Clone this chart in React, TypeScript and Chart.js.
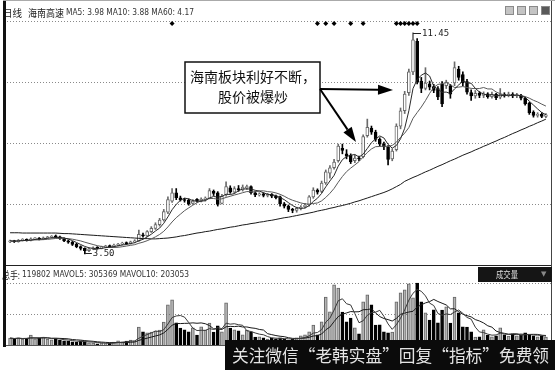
import { useEffect, useRef } from "react";
import { Chart, registerables } from "chart.js";

Chart.register(...registerables);

// Daily bars: open / high / low / close
const opens = [
  3.93, 3.96, 3.94, 3.99, 4.01, 3.99, 4.04, 4.06, 4.03, 4.08, 4.10, 4.13,
  4.11, 4.05, 3.97, 3.92, 3.85, 3.76, 3.70, 3.62, 3.68, 3.72, 3.70, 3.75,
  3.78, 3.76, 3.82, 3.85, 3.89, 3.87, 3.93, 3.97, 4.18, 4.15, 4.30, 4.42,
  4.55, 4.72, 5.00, 5.40, 5.70, 5.52, 5.45, 5.44, 5.32, 5.46, 5.40, 5.47,
  5.50, 5.75, 5.70, 5.32, 5.62, 5.88, 5.72, 5.85, 5.80, 5.88, 5.92, 5.70,
  5.62, 5.66, 5.60, 5.64, 5.58, 5.55, 5.30, 5.22, 5.10, 5.06, 5.14, 5.20,
  5.26, 5.55, 5.80, 5.75, 6.05, 6.40, 6.60, 6.85, 7.30, 7.10, 7.05, 6.85,
  6.95, 7.00, 7.75, 8.02, 7.88, 7.62, 7.45, 7.35, 6.92, 7.25, 8.10, 8.65,
  9.30, 10.05, 11.15, 9.72, 9.45, 9.62, 9.52, 9.45, 9.60, 9.55, 9.55, 9.65,
  10.15, 9.95, 9.70, 9.30, 9.18, 9.28, 9.20, 9.26, 9.16, 9.24, 9.14, 9.24,
  9.20, 9.24, 9.18, 9.20, 9.10, 8.92, 8.60, 8.48, 8.52, 8.45,
];
const highs = [
  4.00, 3.99, 4.02, 4.05, 4.04, 4.08, 4.09, 4.09, 4.11, 4.13, 4.16, 4.18,
  4.14, 4.08, 4.00, 3.95, 3.88, 3.79, 3.72, 3.71, 3.75, 3.76, 3.78, 3.81,
  3.82, 3.85, 3.88, 3.92, 3.93, 3.96, 4.01, 4.36, 4.25, 4.34, 4.48, 4.62,
  4.78, 5.10, 5.55, 5.85, 5.85, 5.58, 5.50, 5.48, 5.45, 5.49, 5.52, 5.55,
  5.85, 5.80, 5.74, 5.64, 6.09, 5.95, 5.92, 5.96, 5.98, 5.98, 5.95, 5.74,
  5.70, 5.70, 5.68, 5.67, 5.62, 5.58, 5.35, 5.26, 5.14, 5.18, 5.24, 5.32,
  5.60, 5.88, 5.84, 6.12, 6.52, 6.68, 6.90, 7.45, 7.45, 7.25, 7.10, 7.05,
  7.02, 7.78, 8.35, 8.10, 7.95, 7.68, 7.52, 7.40, 7.28, 8.18, 8.75, 9.35,
  10.15, 11.45, 11.25, 9.85, 10.20, 9.72, 9.60, 9.52, 9.70, 9.75, 9.60, 10.41,
  10.25, 10.05, 9.78, 9.40, 9.38, 9.34, 9.33, 9.30, 9.32, 9.28, 9.45, 9.30,
  9.32, 9.30, 9.28, 9.24, 9.14, 8.96, 8.65, 8.58, 8.58, 8.55,
];
const lows = [
  3.90, 3.91, 3.92, 3.96, 3.96, 3.97, 4.01, 4.00, 4.01, 4.05, 4.07, 4.08,
  4.02, 3.94, 3.88, 3.80, 3.72, 3.64, 3.50, 3.58, 3.65, 3.67, 3.68, 3.72,
  3.73, 3.74, 3.79, 3.82, 3.84, 3.85, 3.90, 3.95, 4.10, 4.12, 4.27, 4.38,
  4.50, 4.68, 4.95, 5.35, 5.45, 5.40, 5.36, 5.25, 5.28, 5.36, 5.37, 5.40,
  5.48, 5.60, 5.22, 5.30, 5.58, 5.68, 5.68, 5.75, 5.76, 5.82, 5.65, 5.56,
  5.58, 5.55, 5.55, 5.52, 5.48, 5.22, 5.15, 5.02, 4.98, 5.00, 5.08, 5.15,
  5.22, 5.50, 5.65, 5.70, 6.00, 6.22, 6.55, 6.80, 7.10, 6.92, 6.75, 6.78,
  6.85, 6.95, 7.70, 7.80, 7.55, 7.38, 7.25, 6.70, 6.85, 7.20, 8.00, 8.55,
  9.20, 9.95, 9.62, 9.30, 9.40, 9.40, 9.30, 9.05, 8.80, 9.45, 9.10, 9.55,
  9.75, 9.55, 9.25, 9.02, 9.10, 9.12, 9.12, 9.10, 9.10, 9.05, 9.08, 9.14,
  9.15, 9.12, 9.12, 9.04, 8.85, 8.52, 8.42, 8.42, 8.40, 8.40,
];
const closes = [
  3.97, 3.94, 3.99, 4.02, 3.99, 4.04, 4.06, 4.03, 4.08, 4.10, 4.13, 4.11,
  4.05, 3.97, 3.92, 3.84, 3.76, 3.70, 3.62, 3.68, 3.72, 3.70, 3.75, 3.78,
  3.76, 3.82, 3.85, 3.89, 3.87, 3.93, 3.97, 4.20, 4.15, 4.30, 4.42, 4.55,
  4.72, 5.02, 5.45, 5.70, 5.52, 5.45, 5.42, 5.30, 5.40, 5.40, 5.47, 5.50,
  5.78, 5.68, 5.28, 5.58, 5.92, 5.72, 5.85, 5.80, 5.90, 5.92, 5.70, 5.62,
  5.66, 5.60, 5.64, 5.58, 5.52, 5.30, 5.22, 5.10, 5.06, 5.14, 5.18, 5.26,
  5.55, 5.80, 5.72, 6.05, 6.45, 6.60, 6.80, 7.38, 7.22, 7.02, 6.82, 6.95,
  6.92, 7.72, 8.05, 7.88, 7.62, 7.45, 7.35, 6.90, 7.20, 8.10, 8.65, 9.25,
  10.05, 11.20, 9.70, 9.45, 9.65, 9.50, 9.38, 9.15, 8.90, 9.68, 9.25, 10.20,
  9.85, 9.65, 9.32, 9.18, 9.28, 9.20, 9.26, 9.16, 9.24, 9.12, 9.24, 9.20,
  9.25, 9.18, 9.22, 9.10, 8.90, 8.58, 8.48, 8.52, 8.45, 8.50,
];

// Daily volume (手)
const volumes = [
  138200, 121500, 143800, 117600, 135400, 196300, 124100, 139700, 158200, 119800, 102400, 126900,
  98500, 84200, 79600, 62300, 58700, 81400, 64100, 43800, 39500, 24600, 41200, 27300,
  38900, 59400, 83100, 61800, 78500, 97200, 82600, 356400, 262100, 243500, 258300, 279600,
  296200, 458700, 803500, 905200, 441300, 338600, 301900, 262400, 343700, 198500, 362800, 296100,
  437200, 258900, 381400, 262300, 845600, 336200, 302500, 281700, 203600, 299800, 262100, 158400,
  161700, 142300, 118900, 138600, 121200, 143500, 119700, 98600, 122800, 141300, 182500, 203800,
  262400, 398700, 203100, 463200, 958400, 662100, 1203500, 1138600, 659300, 461800, 538700, 342900,
  221600, 861300, 1002700, 801400, 398500, 402300, 263800, 242100, 258600, 863700, 1042500, 1101800,
  1223900, 943600, 1238600, 862400, 642800, 498300, 703600, 441200, 698700, 762300, 438100, 958200,
  641500, 362800, 358400, 263100, 158900, 161200, 302600, 198300, 162400, 181700, 342300, 202100,
  178600, 221400, 183900, 198700, 243100, 199600, 181200, 162800, 178300, 158600,
];

// 60-day moving average as shown by the terminal
const ma60 = [
  4.26, 4.26, 4.26, 4.25, 4.25, 4.25, 4.25, 4.25, 4.25, 4.25, 4.25, 4.25,
  4.24, 4.23, 4.23, 4.22, 4.21, 4.20, 4.19, 4.18, 4.17,
  4.16, 4.15, 4.14, 4.13, 4.12, 4.11, 4.10, 4.09, 4.08, 4.07,
  4.06, 4.05, 4.05, 4.04, 4.04, 4.05, 4.06, 4.07, 4.09, 4.11,
  4.14, 4.16, 4.19, 4.22, 4.25, 4.27, 4.30, 4.32, 4.35, 4.38,
  4.40, 4.43, 4.46, 4.48, 4.51, 4.54, 4.56, 4.59, 4.61, 4.64,
  4.66, 4.69, 4.71, 4.74, 4.77, 4.80, 4.82, 4.85, 4.88, 4.91,
  4.94, 4.97, 5.00, 5.04, 5.07, 5.10, 5.14, 5.17, 5.21, 5.24,
  5.28, 5.32, 5.37, 5.41, 5.46, 5.51, 5.56, 5.61, 5.66, 5.71,
  5.77, 5.84, 5.92, 6.00, 6.11, 6.18, 6.25, 6.31, 6.38, 6.45,
  6.51, 6.58, 6.65, 6.71, 6.78, 6.85, 6.91, 6.98, 7.05, 7.11,
  7.17, 7.24, 7.30, 7.37, 7.43, 7.50, 7.56, 7.63, 7.69, 7.76,
  7.83, 7.89, 7.96, 8.02, 8.09, 8.15, 8.22, 8.28, 8.35,
];

// Bars flagged by the signal indicator (diamonds along the top)
const signalBars = [39, 74, 76, 78, 82, 85, 93, 94, 95, 96, 97, 98];

const dayLabels = closes.map((_, i) => `D${i + 1}`);

const priceHeader = ["日线", "海南高速", "MA5: 3.98 MA10: 3.88 MA60: 4.17"];
const volumeHeader = ["总手:", "119802 MAVOL5: 305369 MAVOL10: 203053"];
const noteLines = ["海南板块利好不断，", "股价被爆炒"];
const indicatorName = "成交量";
const footerText = "关注微信“老韩实盘”回复“指标”免费领";

// Visible range of the price pane and the volume pane
const PRICE_MAX = 11.88;
const PRICE_MIN = 3.10;
const VOL_MAX = 1240000;

const PAD = { left: 8, right: 7, top: 21, bottom: 25 };
const PRICE_PANE_PX = 244;
const VOL_PANE_PX = 62;
const AREA_PX = 370 - PAD.top - PAD.bottom;

function movingAverage(values: number[], n: number): number[] {
  return values.map((_, i) => {
    const from = Math.max(0, i - n + 1);
    let s = 0;
    for (let k = from; k <= i; k++) s += values[k];
    return s / (i - from + 1);
  });
}

const isUp = (i: number) => closes[i] >= opens[i];

function drawFitted(
  ctx: CanvasRenderingContext2D,
  text: string,
  x: number,
  yMid: number,
  width: number,
  font: string,
  color: string
) {
  ctx.save();
  ctx.font = font;
  ctx.fillStyle = color;
  ctx.textBaseline = "middle";
  ctx.textAlign = "left";
  const w = ctx.measureText(text).width;
  ctx.translate(x, yMid);
  ctx.scale(width / w, 1);
  ctx.fillText(text, 0, 0);
  ctx.restore();
}

function hLine(ctx: CanvasRenderingContext2D, x1: number, x2: number, y: number) {
  ctx.beginPath();
  ctx.moveTo(x1, y);
  ctx.lineTo(x2, y);
  ctx.stroke();
}

function arrow(ctx: CanvasRenderingContext2D, x1: number, y1: number, x2: number, y2: number) {
  const ang = Math.atan2(y2 - y1, x2 - x1);
  const len = 15;
  const half = 5;
  const bx = x2 - len * Math.cos(ang);
  const by = y2 - len * Math.sin(ang);
  ctx.beginPath();
  ctx.moveTo(x1, y1);
  ctx.lineTo(bx, by);
  ctx.stroke();
  ctx.beginPath();
  ctx.moveTo(x2, y2);
  ctx.lineTo(bx + half * Math.sin(ang), by - half * Math.cos(ang));
  ctx.lineTo(bx - half * Math.sin(ang), by + half * Math.cos(ang));
  ctx.closePath();
  ctx.fill();
}

const panelPlugin = {
  id: "panelDecor",
  beforeDraw(chart: any) {
    const ctx = chart.ctx as CanvasRenderingContext2D;
    ctx.save();
    ctx.fillStyle = "#fff";
    ctx.fillRect(0, 0, chart.width, chart.height);
    ctx.restore();
  },
  beforeDatasetsDraw(chart: any) {
    const ctx = chart.ctx as CanvasRenderingContext2D;
    const y = chart.scales.y;
    const v = chart.scales.v;
    ctx.save();
    ctx.strokeStyle = "#8a8a8a";
    ctx.lineWidth = 1;
    ctx.setLineDash([1, 2]);
    const step = (PRICE_MAX - PRICE_MIN) / 4;
    for (let k = 0; k < 4; k++) {
      const py = Math.round(y.getPixelForValue(PRICE_MAX - k * step)) + 0.5;
      hLine(ctx, 7, 551, py);
    }
    for (const val of [VOL_MAX, VOL_MAX / 2]) {
      const py = Math.round(v.getPixelForValue(val)) + 0.5;
      hLine(ctx, 7, 551, py);
    }
    ctx.restore();
  },
  afterDatasetsDraw(chart: any) {
    const ctx = chart.ctx as CanvasRenderingContext2D;
    const x = chart.scales.x;
    const y = chart.scales.y;
    const v = chart.scales.v;
    const area = chart.chartArea;
    ctx.save();

    // pane borders
    ctx.strokeStyle = "#222";
    ctx.lineWidth = 1;
    const paneBottom = Math.round(y.getPixelForValue(PRICE_MIN)) + 0.5;
    hLine(ctx, 4, 552, paneBottom);
    ctx.strokeStyle = "#555";
    hLine(ctx, 4, 552, Math.round(v.getPixelForValue(0)) + 0.5);
    ctx.strokeStyle = "#aaa";
    hLine(ctx, 3, 555, 0.5);

    // header lines
    const cjk = '"Noto Sans CJK SC", sans-serif';
    drawFitted(ctx, priceHeader[0], 3, 13, 19, `10px ${cjk}`, "#222");
    drawFitted(ctx, priceHeader[1], 28, 13, 36, `10px ${cjk}`, "#222");
    drawFitted(ctx, priceHeader[2], 66, 13, 128, '9px "DejaVu Sans", sans-serif', "#333");
    drawFitted(ctx, volumeHeader[0], 2, 275, 18, `10px ${cjk}`, "#222");
    drawFitted(ctx, volumeHeader[1], 22, 275, 167, '9px "DejaVu Sans", sans-serif', "#333");

    // outer frame
    ctx.fillStyle = "#111";
    ctx.fillRect(3, 1, 3, 346);
    ctx.strokeStyle = "#444";
    ctx.beginPath();
    ctx.moveTo(551.5, 1);
    ctx.lineTo(551.5, 346);
    ctx.stroke();

    // window buttons
    const btnX = [505, 517, 529, 541];
    btnX.forEach((bx, i) => {
      ctx.fillStyle = i === 3 ? "#5a5a5a" : "#c4c4c4";
      ctx.fillRect(bx, 6, 9, 9);
      ctx.strokeStyle = "#8a8a8a";
      ctx.strokeRect(bx + 0.5, 6.5, 8, 8);
    });

    // indicator selector
    ctx.fillStyle = "#151515";
    ctx.fillRect(478, 267, 74, 15);
    drawFitted(ctx, indicatorName, 496, 274.5, 22, `9px ${cjk}`, "#ddd");
    ctx.fillStyle = "#888";
    ctx.font = '7px "DejaVu Sans", sans-serif';
    ctx.textBaseline = "middle";
    ctx.fillText("▼", 541, 274.5);

    // signal diamonds
    ctx.fillStyle = "#000";
    for (const b of signalBars) {
      const px = x.getPixelForValue(b);
      const py = area.top + 2.5;
      ctx.beginPath();
      ctx.moveTo(px, py - 2.5);
      ctx.lineTo(px + 2.5, py);
      ctx.lineTo(px, py + 2.5);
      ctx.lineTo(px - 2.5, py);
      ctx.closePath();
      ctx.fill();
    }

    // extreme price labels
    const hiVal = Math.max(...highs);
    const loVal = Math.min(...lows);
    const hiIdx = highs.indexOf(hiVal);
    const loIdx = lows.indexOf(loVal);
    ctx.strokeStyle = "#222";
    ctx.fillStyle = "#222";
    ctx.font = '9px "DejaVu Sans Mono", monospace';
    ctx.textBaseline = "middle";
    const hx = x.getPixelForValue(hiIdx);
    const hy = Math.round(y.getPixelForValue(hiVal)) + 0.5;
    hLine(ctx, hx, hx + 8, hy);
    ctx.fillText(hiVal.toFixed(2), hx + 9, hy);
    const lx = x.getPixelForValue(loIdx);
    const ly = Math.round(y.getPixelForValue(loVal)) - 0.5;
    hLine(ctx, lx, lx + 7, ly);
    ctx.fillText(loVal.toFixed(2), lx + 8, ly);

    // annotation box with arrows
    ctx.fillStyle = "#fff";
    ctx.fillRect(185, 62, 135, 51);
    ctx.strokeStyle = "#111";
    ctx.lineWidth = 1.5;
    ctx.strokeRect(185, 62, 135, 51);
    ctx.fillStyle = "#111";
    ctx.font = `14px ${cjk}`;
    ctx.textAlign = "center";
    ctx.textBaseline = "middle";
    ctx.fillText(noteLines[0], 253, 77);
    ctx.fillText(noteLines[1], 253, 97);
    ctx.lineWidth = 2;
    ctx.strokeStyle = "#000";
    ctx.fillStyle = "#000";
    arrow(ctx, 320, 89, 393, 90);
    arrow(ctx, 320, 89, 356, 142);

    // footer banner
    ctx.fillStyle = "#0b0b0b";
    ctx.fillRect(225, 340, 330, 30);
    ctx.textAlign = "left";
    drawFitted(ctx, footerText, 232, 356, 317, `17px ${cjk}`, "#e4e4e4");

    ctx.restore();
  },
};

export default function App() {
  const ref = useRef<HTMLCanvasElement>(null);

  useEffect(() => {
    const ma5 = movingAverage(closes, 5);
    const ma10 = movingAverage(closes, 10);
    const mavol5 = movingAverage(volumes, 5);
    const mavol10 = movingAverage(volumes, 10);
    const up = closes.map((_, i) => isUp(i));

    const line = (data: number[], color: string, axis: string) => ({
      type: "line" as const,
      data,
      yAxisID: axis,
      borderColor: color,
      borderWidth: 1,
      pointRadius: 0,
      tension: 0,
      fill: false,
      order: 0,
    });

    const chart = new Chart(ref.current as HTMLCanvasElement, {
      type: "bar",
      data: {
        labels: dayLabels,
        datasets: [
          line(ma5, "#2a2a2a", "y"),
          line(ma10, "#5a5a5a", "y"),
          line(ma60, "#1a1a1a", "y"),
          line(mavol5, "#3a3a3a", "v"),
          line(mavol10, "#1a1a1a", "v"),
          {
            type: "bar" as const,
            data: opens.map((o, i) => [o, closes[i]]),
            yAxisID: "y",
            grouped: false,
            barThickness: 3,
            minBarLength: 1,
            borderSkipped: false,
            borderWidth: 1,
            backgroundColor: up.map((u) => (u ? "#ffffff" : "#000000")),
            borderColor: up.map((u) => (u ? "#6a6a6a" : "#000000")),
            order: 1,
          },
          {
            type: "bar" as const,
            data: lows.map((l, i) => [l, highs[i]]),
            yAxisID: "y",
            grouped: false,
            barThickness: 1,
            borderWidth: 0,
            backgroundColor: up.map((u) => (u ? "#6a6a6a" : "#000000")),
            order: 2,
          },
          {
            type: "bar" as const,
            data: volumes,
            yAxisID: "v",
            grouped: false,
            barThickness: 3,
            borderWidth: 1,
            borderSkipped: "start",
            backgroundColor: up.map((u) => (u ? "#b4b4b4" : "#000000")),
            borderColor: up.map((u) => (u ? "#666666" : "#000000")),
            order: 3,
          },
        ] as any,
      },
      options: {
        responsive: false,
        animation: false,
        devicePixelRatio: 1,
        layout: { padding: PAD },
        plugins: { legend: { display: false }, tooltip: { enabled: false } },
        scales: {
          x: { type: "category", display: false, offset: true, grid: { display: false } },
          y: {
            display: false,
            min: PRICE_MAX - ((PRICE_MAX - PRICE_MIN) * AREA_PX) / PRICE_PANE_PX,
            max: PRICE_MAX,
          },
          v: {
            display: false,
            min: 0,
            max: (VOL_MAX * AREA_PX) / VOL_PANE_PX,
          },
        },
      },
      plugins: [panelPlugin],
    });

    return () => chart.destroy();
  }, []);

  return (
    <div style={{ position: "fixed", left: 0, top: 0, width: 555, height: 370, background: "#fff" }}>
      <canvas ref={ref} width={555} height={370} style={{ display: "block", width: 555, height: 370 }} />
    </div>
  );
}
